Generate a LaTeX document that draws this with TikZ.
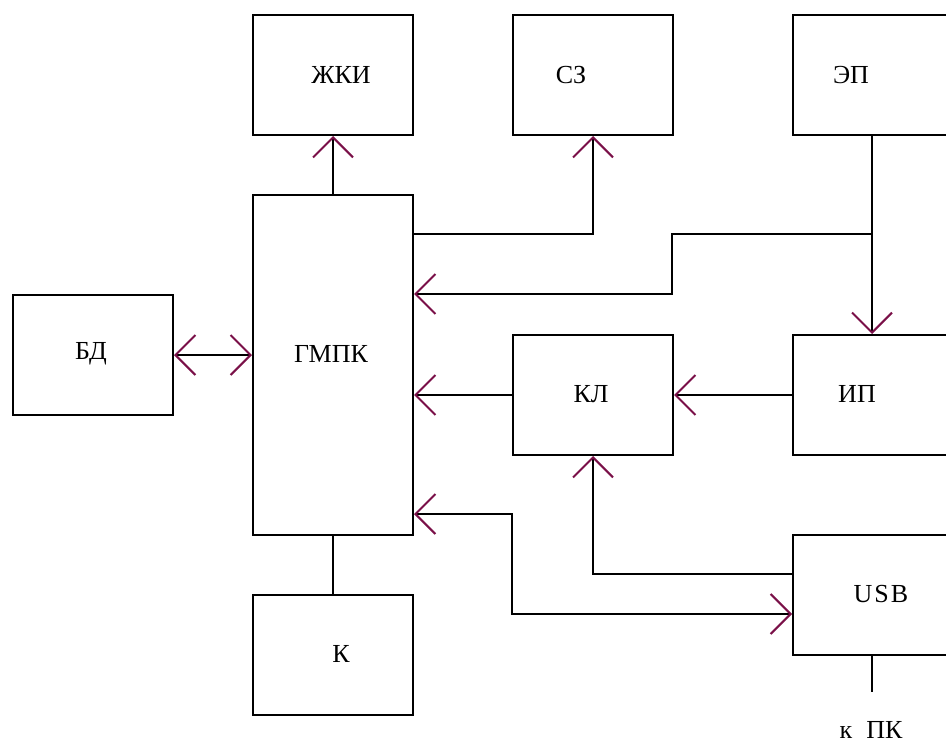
\documentclass[tikz,border=0pt]{standalone}
\usepackage{fontspec}
\setmainfont{Liberation Serif}
\usetikzlibrary{arrows.meta}
\definecolor{arrc}{HTML}{7A1048}
\tikzset{
  blk/.style={draw=black, line width=2pt, minimum width=160pt, minimum height=120pt, inner sep=0pt, anchor=north west},
  lbl/.style={font=\fontsize{26pt}{30pt}\selectfont, inner sep=0pt},
  conn/.style={draw=black, line width=2pt},
  tip/.tip={Straight Barb[length=20pt, width=40pt, color=arrc, line width=2pt]},
  ar/.style={conn, -tip},
  dar/.style={conn, tip-tip}
}
\begin{document}
\begin{tikzpicture}[x=1pt, y=-1pt]
\useasboundingbox[fill=white] (0,0) rectangle (946,744);
% boxes
\node[blk] (zki) at (252,14) {};
\node[blk] (sz) at (512,14) {};
\node[blk] (ep) at (792,14) {};
\node[blk, minimum height=340pt] (gmpk) at (252,194) {};
\node[blk] (bd) at (12,294) {};
\node[blk] (kl) at (512,334) {};
\node[blk] (ip) at (792,334) {};
\node[blk] (usb) at (792,534) {};
\node[blk] (k) at (252,594) {};
% labels
\node[lbl] (tzki) at (341,75) {ЖКИ};
\node[lbl] (tsz) at (571,75) {СЗ};
\node[lbl] (tep) at (851,75) {ЭП};
\node[lbl] (tgmpk) at (331,354) {ГМПК};
\node[lbl] (tbd) at (91,354) {БД};
\node[lbl] (tkl) at (591,394) {КЛ};
\node[lbl] (tip) at (857,394) {ИП};
\node[lbl] (tusb) at (881,594) {U\hspace{2pt}S\hspace{2pt}B};
\node[lbl] (tk) at (341,654) {К};
\node[lbl] (tpk) at (871,730) {к\hspace{14pt}ПК};
% coordinates
\coordinate (epb) at (ep.south -| 872,0);
\coordinate (br) at (872,234);
\coordinate (pcend) at (872,692);
% connectors
\draw[ar] (gmpk.north) -- (zki.south);
\draw[ar] (gmpk.north east |- 0,234) -| (sz.south);
\draw[ar] (epb) -- (ip.north -| epb);
\draw[ar] (br) -- (672,234) -- (672,294) -- (gmpk.east |- 0,294);
\draw[ar] (kl.west) -- (gmpk.east |- kl.west);
\draw[ar] (ip.west) -- (kl.east);
\draw[ar] (usb.west |- 0,574) -| (kl.south);
\draw[dar] (gmpk.east |- 0,514) -- (512,514) -- (512,614) -- (usb.west |- 0,614);
\draw[dar] (bd.east) -- (gmpk.west |- bd.east);
\draw[conn] (gmpk.south) -- (k.north);
\draw[conn] (usb.south -| pcend) -- (pcend);
\end{tikzpicture}
\end{document}
